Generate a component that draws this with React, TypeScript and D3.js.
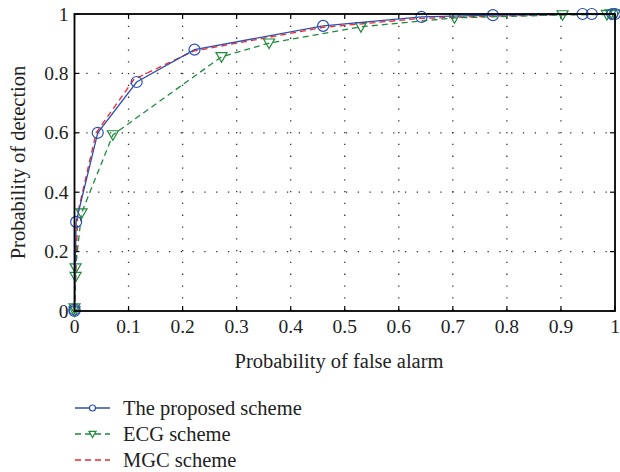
import React from "react";
import * as d3 from "d3";

const xTicks = [0, 0.1, 0.2, 0.3, 0.4, 0.5, 0.6, 0.7, 0.8, 0.9, 1];
const yTicks = [0, 0.2, 0.4, 0.6, 0.8, 1];
const xTickLabels = ["0", "0.1", "0.2", "0.3", "0.4", "0.5", "0.6", "0.7", "0.8", "0.9", "1"];
const yTickLabels = ["0", "0.2", "0.4", "0.6", "0.8", "1"];

const proposedX = [0, 0, 0.003, 0.043, 0.115, 0.222, 0.46, 0.642, 0.774, 0.94, 0.957, 0.995, 1];
const proposedY = [0, 0.005, 0.3, 0.6, 0.771, 0.88, 0.96, 0.99, 0.996, 1, 1, 1, 1];

const ecgX = [0, 0, 0.002, 0.002, 0.013, 0.071, 0.272, 0.36, 0.53, 0.703, 0.903, 0.985, 0.992, 1];
const ecgY = [0, 0.01, 0.116, 0.145, 0.33, 0.593, 0.856, 0.902, 0.957, 0.987, 0.997, 0.998, 1, 1];

const mgcX = [0, 0.002, 0.006, 0.04, 0.11, 0.22, 0.46, 0.64, 0.78, 0.95, 1];
const mgcY = [0, 0.1, 0.33, 0.6, 0.78, 0.875, 0.955, 0.985, 0.993, 0.999, 1];

const seriesNames = ["The proposed scheme", "ECG scheme", "MGC scheme"];
const colors = ["#2f4fb0", "#1f8a3c", "#f02828"];

const FONT = "Liberation Serif";

export default function App() {
  const W = 620, H = 472;
  const left = 74.5, right = 615, top = 14, bottom = 311;
  const x = d3.scaleLinear().domain([0, 1]).range([left, right]);
  const y = d3.scaleLinear().domain([0, 1]).range([bottom, top]);
  const line = d3.line<[number, number]>().x(d => x(d[0])).y(d => y(d[1]));
  const pts = (xs: number[], ys: number[]) => xs.map((v, i) => [v, ys[i]] as [number, number]);
  const tri = (cx: number, cy: number, r: number) =>
    `M${cx - r},${cy - r * 0.75}L${cx + r},${cy - r * 0.75}L${cx},${cy + r}Z`;

  return (
    <svg width={W} height={H} style={{ position: "absolute", left: 0, top: 0, background: "#fff" }}>
      {/* grid */}
      {xTicks.slice(1, -1).map((t, i) => (
        <line key={"gx" + i} x1={x(t)} x2={x(t)} y1={top} y2={bottom} stroke="#333" strokeWidth={1.3} strokeDasharray="1.3,10.5" />
      ))}
      {yTicks.slice(1, -1).map((t, i) => (
        <line key={"gy" + i} x1={left} x2={right} y1={y(t)} y2={y(t)} stroke="#333" strokeWidth={1.3} strokeDasharray="1.3,10.5" />
      ))}
      {/* ticks */}
      {xTicks.map((t, i) => (
        <g key={"tx" + i}>
          <line x1={x(t)} x2={x(t)} y1={bottom} y2={bottom - 5} stroke="#000" strokeWidth={1.2} />
          <line x1={x(t)} x2={x(t)} y1={top} y2={top + 5} stroke="#000" strokeWidth={1.2} />
          <text x={x(t)} y={bottom + 22} fontSize={19.5} fontFamily={FONT} textAnchor="middle" fill="#222">{xTickLabels[i]}</text>
        </g>
      ))}
      {yTicks.map((t, i) => (
        <g key={"ty" + i}>
          <line x1={left} x2={left + 5} y1={y(t)} y2={y(t)} stroke="#000" strokeWidth={1.2} />
          <line x1={right} x2={right - 5} y1={y(t)} y2={y(t)} stroke="#000" strokeWidth={1.2} />
          <text x={left - 6} y={y(t) + 6.5} fontSize={19.5} fontFamily={FONT} textAnchor="end" fill="#222">{yTickLabels[i]}</text>
        </g>
      ))}
      {/* series */}
      <path d={line(pts(mgcX, mgcY)) || ""} fill="none" stroke={colors[2]} strokeWidth={1.3} strokeDasharray="6,4" />
      <path d={line(pts(ecgX, ecgY)) || ""} fill="none" stroke={colors[1]} strokeWidth={1.3} strokeDasharray="6,4" />
      {ecgX.map((v, i) => (
        <path key={"et" + i} d={tri(x(v), y(ecgY[i]), 5.5)} fill="none" stroke={colors[1]} strokeWidth={1.2} />
      ))}
      <path d={line(pts(proposedX, proposedY)) || ""} fill="none" stroke={colors[0]} strokeWidth={1.3} />
      {proposedX.map((v, i) => (
        <circle key={"pc" + i} cx={x(v)} cy={y(proposedY[i])} r={5.5} fill="none" stroke={colors[0]} strokeWidth={1.2} />
      ))}
      {/* frame */}
      <rect x={left} y={top} width={right - left} height={bottom - top} fill="none" stroke="#000" strokeWidth={1.8} />
      {/* axis labels */}
      <text x={339} y={368} fontSize={20.5} fontFamily={FONT} textAnchor="middle" fill="#222">Probability of false alarm</text>
      <text transform={`translate(25,${(top + bottom) / 2}) rotate(-90)`} fontSize={20.5} fontFamily={FONT} textAnchor="middle" fill="#222">Probability of detection</text>
      {/* legend */}
      {seriesNames.map((n, i) => {
        const ly = 408 + i * 26;
        return (
          <g key={"lg" + i}>
            <line x1={75} x2={110} y1={ly} y2={ly} stroke={colors[i]} strokeWidth={1.3} strokeDasharray={i === 0 ? undefined : "6,4"} />
            {i === 0 && <circle cx={92.5} cy={ly} r={3} fill="#fff" stroke={colors[0]} strokeWidth={1.2} />}
            {i === 1 && <path d={tri(92.5, ly, 3.5)} fill="#fff" stroke={colors[1]} strokeWidth={1.2} />}
            <text x={123} y={ly + 7} fontSize={20.5} fontFamily={FONT} fill="#222">{n}</text>
          </g>
        );
      })}
    </svg>
  );
}
